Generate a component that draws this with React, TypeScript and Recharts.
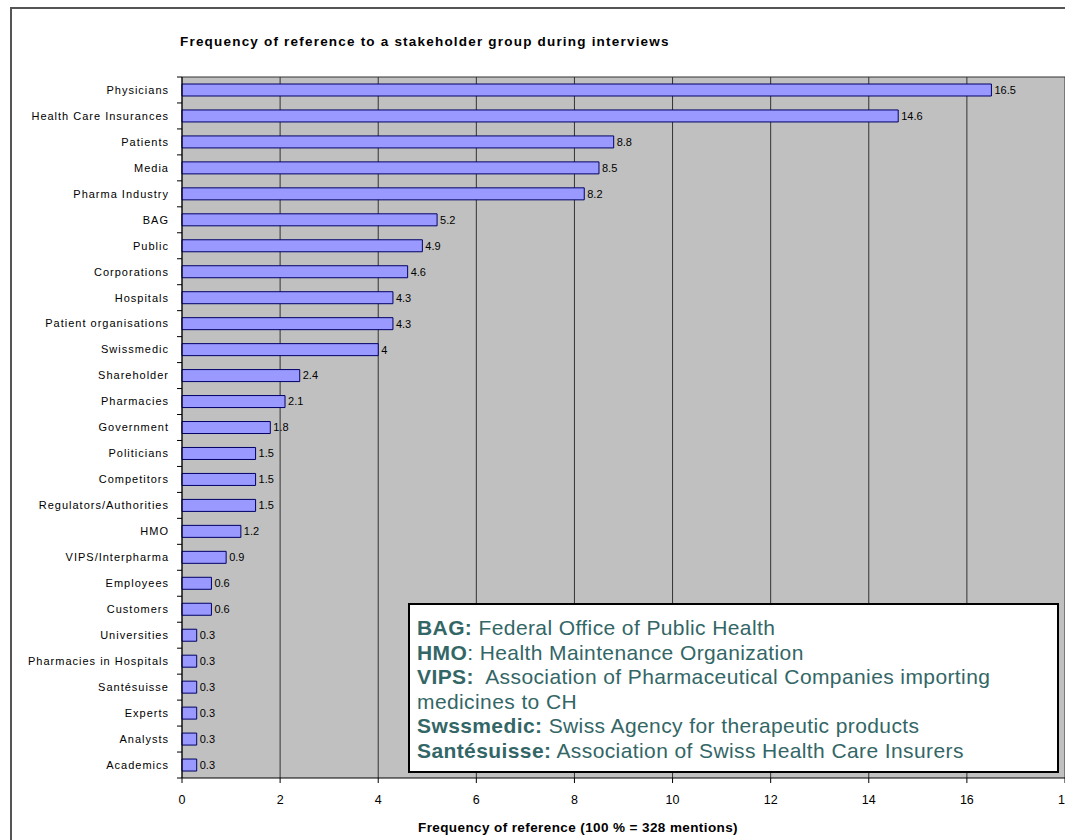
import { Bar, BarChart, CartesianGrid, LabelList, XAxis, YAxis } from 'recharts';

const STAKEHOLDERS = [
  'Physicians', 'Health Care Insurances', 'Patients', 'Media', 'Pharma Industry', 'BAG', 'Public',
  'Corporations', 'Hospitals', 'Patient organisations', 'Swissmedic', 'Shareholder', 'Pharmacies',
  'Government', 'Politicians', 'Competitors', 'Regulators/Authorities', 'HMO', 'VIPS/Interpharma',
  'Employees', 'Customers', 'Universities', 'Pharmacies in Hospitals', 'Santésuisse', 'Experts',
  'Analysts', 'Academics',
];

const FREQUENCY = [
  16.5, 14.6, 8.8, 8.5, 8.2, 5.2, 4.9, 4.6, 4.3, 4.3, 4, 2.4, 2.1, 1.8, 1.5, 1.5, 1.5, 1.2, 0.9,
  0.6, 0.6, 0.3, 0.3, 0.3, 0.3, 0.3, 0.3,
];

const X_TICKS = [0, 2, 4, 6, 8, 10, 12, 14, 16, 18];

const GLOSSARY: [string, string][] = [
  ['BAG:', ' Federal Office of Public Health'],
  ['HMO', ': Health Maintenance Organization'],
  ['VIPS:', '  Association of Pharmaceutical Companies importing'],
  ['', 'medicines to CH'],
  ['Swssmedic:', ' Swiss Agency for therapeutic products'],
  ['Santésuisse:', ' Association of Swiss Health Care Insurers'],
];

const data = STAKEHOLDERS.map((name, i) => ({ name, value: FREQUENCY[i] }));

const W = 1065;
const H = 840;
const X_AXIS_H = 30;
const MARGIN = { top: 77, right: 0, bottom: 62 - X_AXIS_H, left: 0 };
const Y_AXIS_W = 182;
// height of one category band, used to put the y ticks between categories
const BAND = (H - MARGIN.top - MARGIN.bottom - X_AXIS_H) / data.length;

const FONT = '"Liberation Sans", Arial, sans-serif';

function CategoryTick(props: any) {
  const { x, y, payload, index } = props;
  const axisX = x + 8;
  return (
    <g>
      <line x1={axisX - 5} x2={axisX} y1={y - BAND / 2} y2={y - BAND / 2} stroke="#000" />
      {index === data.length - 1 && (
        <line x1={axisX - 5} x2={axisX} y1={y + BAND / 2} y2={y + BAND / 2} stroke="#000" />
      )}
      <text x={axisX - 13} y={y} dy="0.35em" textAnchor="end" fontSize={11} fill="#000" letterSpacing={1}>
        {payload.value}
      </text>
    </g>
  );
}

export default function App() {
  return (
    <div style={{ position: 'fixed', left: 0, top: 0, width: W, height: H, overflow: 'hidden', background: '#fff', fontFamily: FONT }}>
      <div style={{ position: 'absolute', left: 10, top: 7, width: 1200, height: 1000, borderLeft: '2px solid #555', borderTop: '2px solid #555' }} />
      <div style={{ position: 'absolute', left: 180, top: 34, fontSize: 13.5, fontWeight: 'bold', letterSpacing: 1.2, whiteSpace: 'nowrap' }}>
        Frequency of reference to a stakeholder group during interviews
      </div>
      <div style={{ position: 'absolute', left: 0, top: 0 }}>
        <BarChart width={W} height={H} data={data} layout="vertical" margin={MARGIN} barSize={12}>
          <CartesianGrid
            fill="#c0c0c0"
            fillOpacity={1}
            stroke="#333"
            strokeOpacity={1}
            horizontalCoordinatesGenerator={({ offset }: any) => [offset.top]}
          />
          <XAxis
            type="number"
            domain={[0, 18]}
            ticks={X_TICKS}
            interval={0}
            height={X_AXIS_H}
            tick={{ fontSize: 12.5, fill: '#000', fontFamily: FONT }}
            tickSize={5}
            tickMargin={12}
            stroke="#000"
          />
          <YAxis
            type="category"
            dataKey="name"
            width={Y_AXIS_W}
            interval={0}
            tickLine={false}
            stroke="#000"
            tick={<CategoryTick />}
          />
          <Bar dataKey="value" fill="#9999ff" stroke="#000066" strokeWidth={1} isAnimationActive={false}>
            <LabelList dataKey="value" position="right" offset={3} fontSize={11} fill="#000" fontFamily={FONT} />
          </Bar>
        </BarChart>
      </div>
      <div style={{ position: 'absolute', left: 418, top: 820, fontSize: 13.5, fontWeight: 'bold', letterSpacing: 0.4, whiteSpace: 'nowrap' }}>
        Frequency of reference (100 % = 328 mentions)
      </div>
      <div
        style={{
          position: 'absolute',
          left: 408,
          top: 603,
          width: 651,
          height: 170,
          background: '#fff',
          border: '2px solid #000',
          padding: '11px 0 0 7px',
          boxSizing: 'border-box',
          color: '#336666',
          fontSize: 21,
          letterSpacing: 0.4,
          lineHeight: '24.6px',
        }}
      >
        {GLOSSARY.map(([term, desc], i) => (
          <div key={i} style={{ whiteSpace: 'pre' }}>
            <b>{term}</b>
            {desc}
          </div>
        ))}
      </div>
    </div>
  );
}
